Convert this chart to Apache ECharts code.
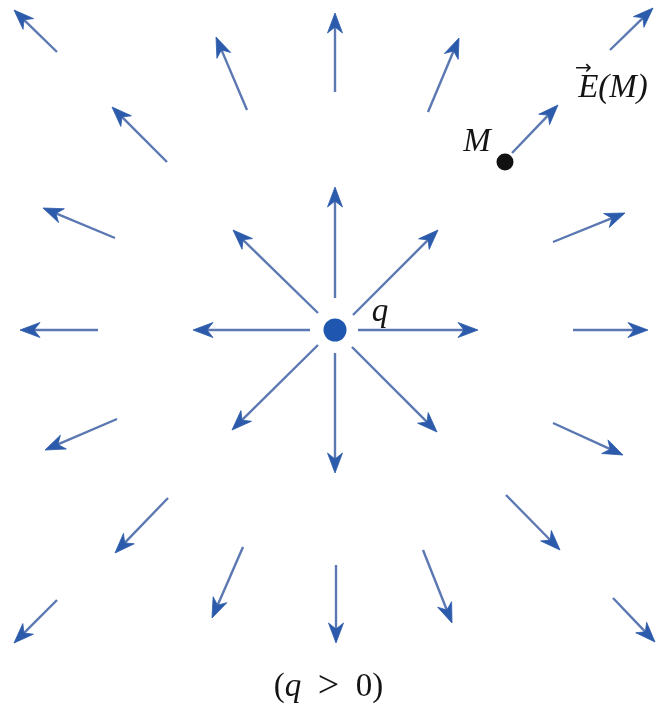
<!DOCTYPE html>
<html>
<head>
<meta charset="utf-8">
<script src="https://cdn.jsdelivr.net/npm/echarts@6/dist/echarts.min.js"></script>
<style>
html,body{margin:0;padding:0;background:#fff;}
#chart{width:657px;height:723px;}
</style>
</head>
<body>
<div id="chart"></div>
<script>
// Field arrows around the point charge q (origin at q, y axis pointing up, units ~ px)
var tailX = [0, 0, -25, 23, -17, 18, -17, 17,
             0, -88, 93, -278, 275, -168, 177, -220, 218, -237, 238, -218, 218, -167, 171, -92, 88, 1, -278, 278];
var tailY = [32, -23, 0, 0, 17, 15, -15, -17,
             238, 220, 218, 278, 280, 168, 177, 92, 88, 0, 0, -89, -93, -168, -165, -217, -220, -235, -270, -268];
var headX = [0, 0, -142, 143, -102, 103, -103, 102,
             0, -119, 124, -321, 318, -223, 223, -292, 290, -315, 313, -290, 288, -220, 225, -123, 117, 1, -321, 320];
var headY = [143, -143, 0, 0, 100, 100, -100, -102,
             317, 293, 292, 320, 322, 223, 225, 122, 117, 0, 0, -120, -125, -223, -220, -288, -293, -313, -313, -312];

// Charge q and observation point M
var chargePos = [0, 0];
var pointM = [170, 168];

var labelsText = ['q', 'M', 'E(M)'];
var labelsPos = [[45, 18], [142, 188], [278, 246]];

var arrowData = tailX.map(function (x, i) { return [x, tailY[i], headX[i], headY[i]]; });

var chart = echarts.init(document.getElementById('chart'), null, {renderer: 'canvas'});

function renderArrow(params, api) {
  var p0 = api.coord([api.value(0), api.value(1)]);
  var p1 = api.coord([api.value(2), api.value(3)]);
  var dx = p1[0] - p0[0], dy = p1[1] - p0[1];
  var len = Math.sqrt(dx * dx + dy * dy);
  var ux = dx / len, uy = dy / len;
  var nx = -uy, ny = ux;
  var hl = 20, hw = 7.5, notch = 6;
  var base = [p1[0] - ux * hl, p1[1] - uy * hl];
  var left = [base[0] + nx * hw, base[1] + ny * hw];
  var right = [base[0] - nx * hw, base[1] - ny * hw];
  var inner = [p1[0] - ux * (hl - notch), p1[1] - uy * (hl - notch)];
  return {
    type: 'group',
    children: [{
      type: 'line',
      shape: {x1: p0[0], y1: p0[1], x2: inner[0], y2: inner[1]},
      style: {stroke: '#5b78b2', lineWidth: 2.4}
    }, {
      type: 'polygon',
      shape: {points: [p1, left, inner, right]},
      style: {fill: '#2c5bab', stroke: '#2c5bab', lineWidth: 0.8, lineJoin: 'round'}
    }]
  };
}

var option = {
  animation: false,
  backgroundColor: '#ffffff',
  grid: {left: 0, right: 0, top: 0, bottom: 0},
  xAxis: {type: 'value', min: -335, max: 322, show: false},
  yAxis: {type: 'value', min: -393, max: 330, show: false},
  series: [{
    type: 'custom',
    renderItem: renderArrow,
    data: arrowData,
    silent: true
  }, {
    type: 'scatter',
    data: [chargePos],
    symbolSize: 23,
    itemStyle: {color: '#1f56b0', opacity: 1},
    silent: true
  }, {
    type: 'scatter',
    data: [pointM],
    symbolSize: 17,
    itemStyle: {color: '#111111', opacity: 1},
    silent: true
  }, {
    type: 'scatter',
    symbolSize: 0,
    silent: true,
    itemStyle: {opacity: 1},
    data: labelsPos.map(function (p, i) { return {value: p, name: labelsText[i]}; }),
    label: {
      show: true,
      position: 'inside',
      formatter: function (p) {
        if (p.name === 'E(M)') return '{v|→}\n{t|E(M)}';
        return '{t|' + p.name + '}';
      },
      rich: {
        t: {fontFamily: 'Liberation Serif', fontStyle: 'italic', fontSize: 33, color: '#141414', lineHeight: 30},
        v: {fontFamily: 'DejaVu Sans', fontSize: 20, color: '#141414', lineHeight: 8, width: 84, align: 'left', padding: [0, 0, 0, 8]}
      }
    }
  }],
  graphic: [{
    type: 'text',
    left: 'center',
    top: 668,
    style: {
      text: '({q|q}  {g|>}  0)',
      rich: {
        q: {fontFamily: 'Liberation Serif', fontStyle: 'italic', fontSize: 33, fill: '#141414'},
        g: {fontFamily: 'Liberation Serif', fontSize: 38, fill: '#141414'}
      },
      font: '33px "Liberation Serif"',
      fill: '#141414'
    }
  }]
};
chart.setOption(option);
</script>
</body>
</html>
